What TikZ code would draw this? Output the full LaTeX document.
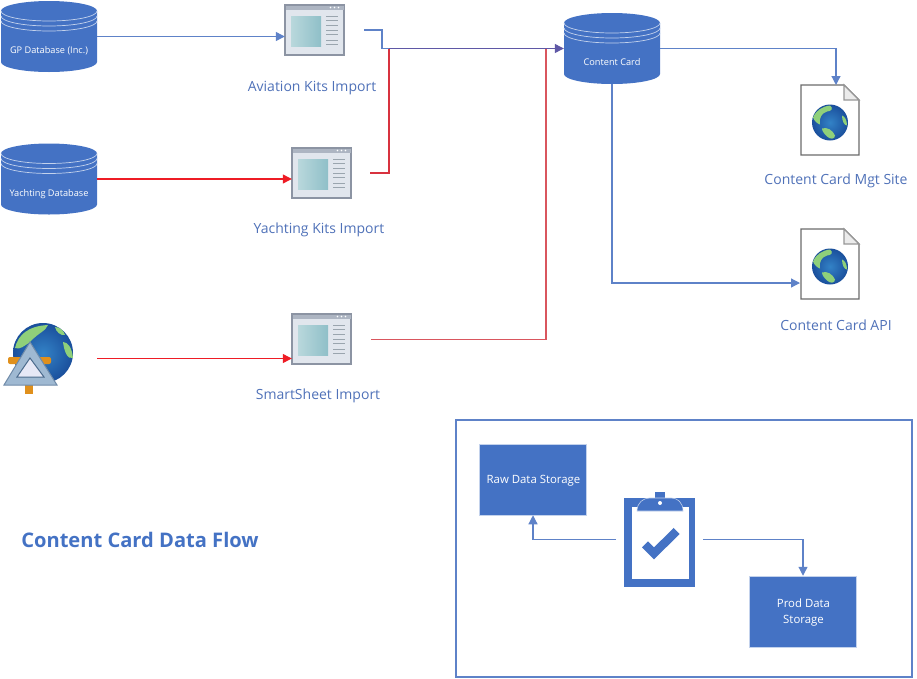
\documentclass[tikz,border=0pt]{standalone}
\usepackage{fontspec}
\setmainfont{Open Sans}
\usetikzlibrary{calc, arrows.meta}

\definecolor{ccblue}{HTML}{4472C4}
\definecolor{cctext}{HTML}{4F71B8}
\definecolor{ccline}{HTML}{5E82C8}
\definecolor{ccred}{HTML}{EE1C25}
\definecolor{ccdeep}{HTML}{D8323F}
\definecolor{ccpink}{HTML}{D9565E}
\definecolor{ccpurple}{HTML}{5F58A6}
\definecolor{ccpale}{HTML}{C3D2EC}
\definecolor{wingray}{HTML}{8C94A3}
\definecolor{winface}{HTML}{E1E6ED}
\definecolor{winbar}{HTML}{ADB5C2}
\definecolor{winrow}{HTML}{9AA5AE}
\definecolor{panelin}{HTML}{B9D8DC}
\definecolor{panelout}{HTML}{8FBFC8}
\definecolor{docgray}{HTML}{6B6B6B}
\definecolor{seatop}{HTML}{3382C6}
\definecolor{seaedge}{HTML}{1A4F9C}
\definecolor{landgreen}{HTML}{8FD07A}
\definecolor{beaconfill}{HTML}{9FB9D2}
\definecolor{beaconedge}{HTML}{6F8AA8}
\definecolor{beaconin}{HTML}{E6E8F6}
\definecolor{beacondark}{HTML}{4A6A8C}
\definecolor{beaconpost}{HTML}{E0901C}

\tikzset{
  flow/.style={ccline, line width=1.2pt, -{Triangle[length=9pt, width=9pt]}},
  redflow/.style={ccred, line width=1.2pt, -{Triangle[length=9pt, width=9pt]}},
  joinflow/.style={ccpurple, line width=1.2pt, -{Triangle[length=9pt, width=9pt]}},
  link/.style={ccline, line width=1.2pt},
  slot/.style={inner sep=0pt, minimum width=#1},
  itemlabel/.style={text=cctext, font=\fontsize{14}{16}\selectfont},
  dblabel/.style={text=white, font=\fontsize{9.2}{11}\selectfont},
  boxlabel/.style={text=white, font=\fontsize{11.4}{16}\selectfont, align=center},
  storage/.style={fill=ccblue, draw=ccpale, line width=0.5pt, inner sep=0pt, minimum width=107pt, minimum height=71pt},
  pics/dbcyl/.style={code={
    \fill[ccblue] (-48,-25.5) arc[start angle=180, end angle=360, x radius=48, y radius=10]
      -- (48,25.5) arc[start angle=0, end angle=180, x radius=48, y radius=10] -- cycle;
    \foreach \dy in {0,5,10}
      \draw[ccpale, line width=0.7pt] (-48,-25.5+\dy) arc[start angle=180, end angle=0, x radius=48, y radius=10];
  }},
  pics/winicon/.style={code={
    \draw[wingray, fill=winface, line width=1.2pt] (-29.5,-25) rectangle (29.5,25);
    \fill[winbar] (-29,-24.5) rectangle (29,-20);
    \foreach \dx in {16,20,24}
      \fill[white] (\dx,-22.5) circle (0.8);
    \shade[left color=panelin, right color=panelout] (-23.5,-14) rectangle (6.5,16);
    \foreach \dy in {-14,-10,-5,0,4,10,14}
      \draw[winrow, line width=0.5pt] (11.5,\dy) -- (23.5,\dy);
  }},
  pics/earth/.style={code={
    \shade[inner color=seatop, outer color=seaedge] (0,0) circle (18);
    \fill[landgreen] (-17,-5) .. controls (-14,-12) and (-8,-16) .. (0,-17)
      .. controls (4,-14) and (1,-11) .. (-3,-11) .. controls (-8,-9) and (-11,-6) .. (-10,2)
      .. controls (-13,1) and (-16,-2) .. (-17,-5) -- cycle;
    \fill[landgreen] (-8,6) .. controls (-3,4) and (3,8) .. (5,13)
      .. controls (5,17) and (0,17) .. (-3,14) .. controls (-5,12) and (-8,9) .. (-8,6) -- cycle;
    \fill[landgreen] (12,-7) .. controls (15,-6) and (17,-2) .. (17,3)
      .. controls (14,3) and (12,-2) .. (12,-7) -- cycle;
  }},
  pics/docglobe/.style={code={
    \draw[docgray, fill=white, line width=1.3pt] (-29,-35) -- (14,-35) -- (29,-20) -- (29,35) -- (-29,35) -- cycle;
    \draw[docgray!70, fill=black!8, line width=1.1pt] (14,-35) -- (14,-20) -- (29,-20) -- cycle;
    \pic at (0,2.5) {earth};
  }},
  pics/clipicon/.style={code={
    \fill[ccblue] (-35.5,-44.5) rectangle (35.5,44.5);
    \fill[white] (-27.5,-35.5) rectangle (29.5,36.5);
    \fill[ccblue] (-4.5,-50.5) rectangle (5.5,-44);
    \draw[ccpale, fill=ccblue, line width=0.6pt] (-22.5,-31.5) .. controls (-22.5,-40) and (-16,-44.5) .. (-10,-44.5)
      -- (12,-44.5) .. controls (18,-44.5) and (23.5,-40) .. (23.5,-31.5) -- cycle;
    \fill[white] (0.5,-39.5) circle (2);
    \draw[ccblue, line width=8.5pt] (-14.5,1.8) -- (-5.5,10.8) -- (17.2,-11.5);
  }},
  pics/beacon/.style={code={
    % globe behind the sign
    \shade[inner color=seatop, outer color=seaedge] (43,353) circle (30);
    \fill[landgreen] (15,348) .. controls (18,335) and (28,326) .. (48,325)
      .. controls (46,331) and (38,333) .. (30,342) .. controls (24,346) and (20,350) .. (15,348) -- cycle;
    \fill[landgreen] (63,342) .. controls (68,342) and (72,348) .. (73,358)
      .. controls (67,360) and (64,350) .. (63,342) -- cycle;
    \fill[landgreen] (55,327) .. controls (60,327) and (64,331) .. (65,335) .. controls (61,336) and (56,332) .. (55,327) -- cycle;
    \fill[beaconpost] (25,385) rectangle (33,394);
    \fill[beaconpost, rounded corners=2pt] (8,357) rectangle (51,364);
    \draw[beaconedge, fill=beaconfill, line width=1pt] (30,342) -- (57,385) -- (4,385) -- cycle;
    \draw[beacondark, fill=beaconin, line width=1pt] (30,358) -- (44,377) -- (17,377) -- cycle;
  }},
}

\begin{document}
\begin{tikzpicture}[x=1pt, y=-1pt]
  \useasboundingbox (0,0) rectangle (917,678);

  % sources
  \node[slot=96pt, minimum height=71pt] (gpdb) at (49,36.5) {};
  \node[slot=96pt, minimum height=71pt] (ycdb) at (49,179) {};
  \node[slot=96pt, minimum height=71pt] (card) at (612,48.5) {};
  \pic at (gpdb) {dbcyl};
  \pic at (ycdb) {dbcyl};
  \pic at (card) {dbcyl};
  \node[dblabel] (gptext) at (49,50.5) {GP Database (Inc.)};
  \node[dblabel] (yctext) at (49,194.5) {Yachting Database};
  \node[dblabel] (cardtext) at (612,62.5) {Content Card};

  % smartsheet source
  \node[slot=70pt, minimum height=70pt] (sheet) at (39,359) {};
  \pic {beacon};

  % import windows
  \node[slot=59pt, minimum height=50pt] (avi) at (314.5,30) {};
  \node[slot=59pt, minimum height=50pt] (yci) at (321.5,173) {};
  \node[slot=59pt, minimum height=50pt] (ssi) at (321.5,339) {};
  \pic at (avi) {winicon};
  \pic at (yci) {winicon};
  \pic at (ssi) {winicon};
  \node[itemlabel] (avitext) at (312,88) {Aviation Kits Import};
  \node[itemlabel] (ycitext) at (319,230) {Yachting Kits Import};
  \node[itemlabel] (ssitext) at (318,396) {SmartSheet Import};

  % outputs
  \node[slot=58pt, minimum height=70pt] (mgt) at (830,120) {};
  \node[slot=58pt, minimum height=70pt] (api) at (830,264) {};
  \pic at (mgt) {docglobe};
  \pic at (api) {docglobe};
  \node[itemlabel] (mgttext) at (836,181) {Content Card Mgt Site};
  \node[itemlabel] (apitext) at (836,325) {Content Card API};

  % connector ends
  \coordinate (sheetout) at (97,358.5);
  \coordinate (aviout) at (364,30);
  \coordinate (avijoin) at (382,48.5);
  \coordinate (yciout) at (370,173);
  \coordinate (ycijoin) at (389,48.5);
  \coordinate (ssiout) at (371,339.5);
  \coordinate (ssijoin) at (546,48.5);
  \coordinate (mgtin) at (836,85);
  \coordinate (apiin) at (800,283);

  \draw[flow] (gpdb.east) -- (gpdb.east -| avi.west);
  \draw[redflow] (ycdb.east) -- (ycdb.east -| yci.west);
  \draw[redflow] (sheetout) -- (sheetout -| ssi.west);
  \draw[ccpink, line width=1.2pt] (ssiout) -| (ssijoin);
  \draw[ccdeep, line width=1.2pt] (yciout) -| (ycijoin);
  \draw[link] (aviout) -| (avijoin) -- (ycijoin);
  \draw[joinflow] (ycijoin) -- (card.west);
  \draw[flow] (card.east) -| (mgtin);
  \draw[flow] (card.south) |- (apiin);

  % title
  \node[text=ccblue, font=\bfseries\fontsize{20.1}{24}\selectfont] (title) at (140,540) {Content Card Data Flow};

  % storage panel
  \node[draw=ccline, line width=2pt, inner sep=0pt, minimum width=456pt, minimum height=257pt] (panel) at (684,548.5) {};
  \node[storage] (raw) at (533,479.5) {};
  \node[storage] (prod) at (803,611.5) {};
  \node[boxlabel] (rawtext) at (533.5,481) {Raw Data Storage};
  \node[boxlabel] (prodtext) at (803.5,612.5) {Prod Data\\Storage};
  \node[slot=71pt, minimum height=89pt] (clip) at (659.5,542.5) {};
  \pic at (clip) {clipicon};
  \coordinate (clipleft) at (616,539.5);
  \coordinate (clipright) at (703,539.5);
  \draw[flow] (clipleft) -| (raw.south);
  \draw[flow] (clipright) -| (prod.north);
\end{tikzpicture}
\end{document}
